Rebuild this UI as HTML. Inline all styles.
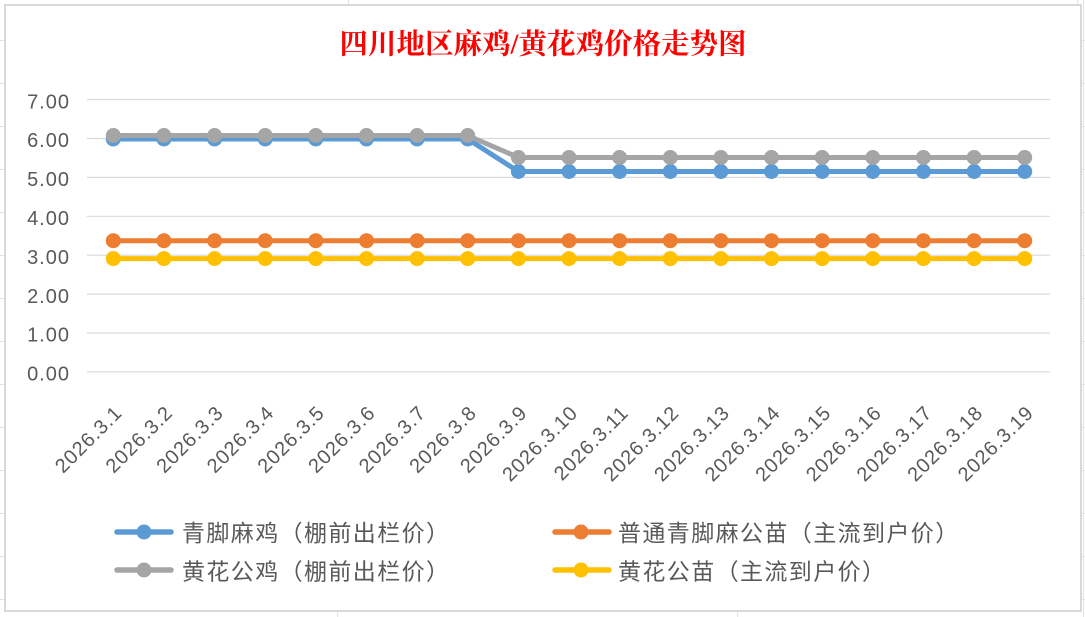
<!DOCTYPE html>
<html><head><meta charset="utf-8"><style>
html,body{margin:0;padding:0;background:#fff;}
body{width:1085px;height:617px;overflow:hidden;}
svg{display:block;}
.yl{font-family:"Liberation Sans","Noto Sans CJK SC",sans-serif;font-size:20px;fill:#595959;letter-spacing:1px;text-anchor:end;}
.xl{font-family:"Liberation Sans","Noto Sans CJK SC",sans-serif;font-size:20px;fill:#595959;letter-spacing:0.9px;text-anchor:end;}
.lg{font-family:"Liberation Sans","Noto Sans CJK SC",sans-serif;font-size:23px;fill:#595959;letter-spacing:1.4px;}
.tt{font-family:"Liberation Serif","Noto Serif CJK SC",serif;font-size:28.5px;fill:#ff0000;font-weight:bold;text-anchor:middle;}
</style></head><body>
<svg width="1085" height="617" viewBox="0 0 1085 617" xmlns="http://www.w3.org/2000/svg">
<g stroke="#e3e3e3" stroke-width="1">
<line x1="0" y1="40.5" x2="4" y2="40.5"/><line x1="0" y1="83.5" x2="4" y2="83.5"/><line x1="0" y1="126.5" x2="4" y2="126.5"/><line x1="0" y1="169.5" x2="4" y2="169.5"/><line x1="0" y1="212.5" x2="4" y2="212.5"/><line x1="0" y1="255.5" x2="4" y2="255.5"/><line x1="0" y1="298.5" x2="4" y2="298.5"/><line x1="0" y1="341.5" x2="4" y2="341.5"/><line x1="0" y1="384.5" x2="4" y2="384.5"/><line x1="0" y1="427.5" x2="4" y2="427.5"/><line x1="0" y1="470.5" x2="4" y2="470.5"/><line x1="0" y1="513.5" x2="4" y2="513.5"/><line x1="0" y1="556.5" x2="4" y2="556.5"/><line x1="0" y1="599.5" x2="4" y2="599.5"/>
<line x1="1082" y1="40.5" x2="1085" y2="40.5"/><line x1="1082" y1="83.5" x2="1085" y2="83.5"/><line x1="1082" y1="126.5" x2="1085" y2="126.5"/><line x1="1082" y1="169.5" x2="1085" y2="169.5"/><line x1="1082" y1="212.5" x2="1085" y2="212.5"/><line x1="1082" y1="255.5" x2="1085" y2="255.5"/><line x1="1082" y1="298.5" x2="1085" y2="298.5"/><line x1="1082" y1="341.5" x2="1085" y2="341.5"/><line x1="1082" y1="384.5" x2="1085" y2="384.5"/><line x1="1082" y1="427.5" x2="1085" y2="427.5"/><line x1="1082" y1="470.5" x2="1085" y2="470.5"/><line x1="1082" y1="513.5" x2="1085" y2="513.5"/><line x1="1082" y1="556.5" x2="1085" y2="556.5"/><line x1="1082" y1="599.5" x2="1085" y2="599.5"/>
<line x1="348.5" y1="0" x2="348.5" y2="4"/><line x1="1077.5" y1="0" x2="1077.5" y2="4"/>
<line x1="337.5" y1="612" x2="337.5" y2="617"/><line x1="737.5" y1="612" x2="737.5" y2="617"/>
<line x1="1083.5" y1="0" x2="1083.5" y2="617"/>
</g>
<rect x="5" y="5" width="1076" height="606" fill="#fff" stroke="#d9d9d9" stroke-width="2"/>
<text class="tt" x="543" y="53.5">四川地区麻鸡/黄花鸡价格走势图</text>
<g stroke="#d9d9d9" stroke-width="1.2">
<line x1="87" y1="99.5" x2="1050" y2="99.5"/>
<line x1="87" y1="138.5" x2="1050" y2="138.5"/>
<line x1="87" y1="177.4" x2="1050" y2="177.4"/>
<line x1="87" y1="216.3" x2="1050" y2="216.3"/>
<line x1="87" y1="255.2" x2="1050" y2="255.2"/>
<line x1="87" y1="294.1" x2="1050" y2="294.1"/>
<line x1="87" y1="333" x2="1050" y2="333"/>
<line x1="87" y1="371.8" x2="1050" y2="371.8"/>
</g>
<text class="yl" x="70" y="108.3">7.00</text>
<text class="yl" x="70" y="147.2">6.00</text>
<text class="yl" x="70" y="186.1">5.00</text>
<text class="yl" x="70" y="225">4.00</text>
<text class="yl" x="70" y="263.9">3.00</text>
<text class="yl" x="70" y="302.8">2.00</text>
<text class="yl" x="70" y="341.7">1.00</text>
<text class="yl" x="70" y="380.5">0.00</text>
<g>
<text class="xl" transform="translate(123.3,414) rotate(-45)">2026.3.1</text>
<text class="xl" transform="translate(173.9,414) rotate(-45)">2026.3.2</text>
<text class="xl" transform="translate(224.6,414) rotate(-45)">2026.3.3</text>
<text class="xl" transform="translate(275.2,414) rotate(-45)">2026.3.4</text>
<text class="xl" transform="translate(325.8,414) rotate(-45)">2026.3.5</text>
<text class="xl" transform="translate(376.5,414) rotate(-45)">2026.3.6</text>
<text class="xl" transform="translate(427.1,414) rotate(-45)">2026.3.7</text>
<text class="xl" transform="translate(477.7,414) rotate(-45)">2026.3.8</text>
<text class="xl" transform="translate(528.4,414) rotate(-45)">2026.3.9</text>
<text class="xl" transform="translate(579,414) rotate(-45)">2026.3.10</text>
<text class="xl" transform="translate(629.6,414) rotate(-45)">2026.3.11</text>
<text class="xl" transform="translate(680.3,414) rotate(-45)">2026.3.12</text>
<text class="xl" transform="translate(730.9,414) rotate(-45)">2026.3.13</text>
<text class="xl" transform="translate(781.5,414) rotate(-45)">2026.3.14</text>
<text class="xl" transform="translate(832.2,414) rotate(-45)">2026.3.15</text>
<text class="xl" transform="translate(882.8,414) rotate(-45)">2026.3.16</text>
<text class="xl" transform="translate(933.4,414) rotate(-45)">2026.3.17</text>
<text class="xl" transform="translate(984.1,414) rotate(-45)">2026.3.18</text>
<text class="xl" transform="translate(1034.7,414) rotate(-45)">2026.3.19</text>
</g>
<g fill="#5B9BD5">
<polyline fill="none" stroke="#5B9BD5" stroke-width="5" stroke-linejoin="round" stroke-linecap="round" points="113.3,139 163.9,139 214.6,139 265.2,139 315.8,139 366.5,139 417.1,139 467.7,139 518.4,171.5 569,171.5 619.6,171.5 670.3,171.5 720.9,171.5 771.5,171.5 822.2,171.5 872.8,171.5 923.4,171.5 974.1,171.5 1024.7,171.5"/>
<circle cx="113.3" cy="139" r="7.5"/><circle cx="163.9" cy="139" r="7.5"/><circle cx="214.6" cy="139" r="7.5"/><circle cx="265.2" cy="139" r="7.5"/><circle cx="315.8" cy="139" r="7.5"/><circle cx="366.5" cy="139" r="7.5"/><circle cx="417.1" cy="139" r="7.5"/><circle cx="467.7" cy="139" r="7.5"/><circle cx="518.4" cy="171.5" r="7.5"/><circle cx="569" cy="171.5" r="7.5"/><circle cx="619.6" cy="171.5" r="7.5"/><circle cx="670.3" cy="171.5" r="7.5"/><circle cx="720.9" cy="171.5" r="7.5"/><circle cx="771.5" cy="171.5" r="7.5"/><circle cx="822.2" cy="171.5" r="7.5"/><circle cx="872.8" cy="171.5" r="7.5"/><circle cx="923.4" cy="171.5" r="7.5"/><circle cx="974.1" cy="171.5" r="7.5"/><circle cx="1024.7" cy="171.5" r="7.5"/>
</g>
<g fill="#ED7D31">
<polyline fill="none" stroke="#ED7D31" stroke-width="5" stroke-linejoin="round" stroke-linecap="round" points="113.3,240.7 1024.7,240.7"/>
<circle cx="113.3" cy="240.7" r="7.5"/><circle cx="163.9" cy="240.7" r="7.5"/><circle cx="214.6" cy="240.7" r="7.5"/><circle cx="265.2" cy="240.7" r="7.5"/><circle cx="315.8" cy="240.7" r="7.5"/><circle cx="366.5" cy="240.7" r="7.5"/><circle cx="417.1" cy="240.7" r="7.5"/><circle cx="467.7" cy="240.7" r="7.5"/><circle cx="518.4" cy="240.7" r="7.5"/><circle cx="569" cy="240.7" r="7.5"/><circle cx="619.6" cy="240.7" r="7.5"/><circle cx="670.3" cy="240.7" r="7.5"/><circle cx="720.9" cy="240.7" r="7.5"/><circle cx="771.5" cy="240.7" r="7.5"/><circle cx="822.2" cy="240.7" r="7.5"/><circle cx="872.8" cy="240.7" r="7.5"/><circle cx="923.4" cy="240.7" r="7.5"/><circle cx="974.1" cy="240.7" r="7.5"/><circle cx="1024.7" cy="240.7" r="7.5"/>
</g>
<g fill="#A5A5A5">
<polyline fill="none" stroke="#A5A5A5" stroke-width="5" stroke-linejoin="round" stroke-linecap="round" points="113.3,135.5 163.9,135.5 214.6,135.5 265.2,135.5 315.8,135.5 366.5,135.5 417.1,135.5 467.7,135.5 518.4,157.5 569,157.5 619.6,157.5 670.3,157.5 720.9,157.5 771.5,157.5 822.2,157.5 872.8,157.5 923.4,157.5 974.1,157.5 1024.7,157.5"/>
<circle cx="113.3" cy="135.5" r="7.5"/><circle cx="163.9" cy="135.5" r="7.5"/><circle cx="214.6" cy="135.5" r="7.5"/><circle cx="265.2" cy="135.5" r="7.5"/><circle cx="315.8" cy="135.5" r="7.5"/><circle cx="366.5" cy="135.5" r="7.5"/><circle cx="417.1" cy="135.5" r="7.5"/><circle cx="467.7" cy="135.5" r="7.5"/><circle cx="518.4" cy="157.5" r="7.5"/><circle cx="569" cy="157.5" r="7.5"/><circle cx="619.6" cy="157.5" r="7.5"/><circle cx="670.3" cy="157.5" r="7.5"/><circle cx="720.9" cy="157.5" r="7.5"/><circle cx="771.5" cy="157.5" r="7.5"/><circle cx="822.2" cy="157.5" r="7.5"/><circle cx="872.8" cy="157.5" r="7.5"/><circle cx="923.4" cy="157.5" r="7.5"/><circle cx="974.1" cy="157.5" r="7.5"/><circle cx="1024.7" cy="157.5" r="7.5"/>
</g>
<g fill="#FFC000">
<polyline fill="none" stroke="#FFC000" stroke-width="5" stroke-linejoin="round" stroke-linecap="round" points="113.3,258.6 1024.7,258.6"/>
<circle cx="113.3" cy="258.6" r="7.5"/><circle cx="163.9" cy="258.6" r="7.5"/><circle cx="214.6" cy="258.6" r="7.5"/><circle cx="265.2" cy="258.6" r="7.5"/><circle cx="315.8" cy="258.6" r="7.5"/><circle cx="366.5" cy="258.6" r="7.5"/><circle cx="417.1" cy="258.6" r="7.5"/><circle cx="467.7" cy="258.6" r="7.5"/><circle cx="518.4" cy="258.6" r="7.5"/><circle cx="569" cy="258.6" r="7.5"/><circle cx="619.6" cy="258.6" r="7.5"/><circle cx="670.3" cy="258.6" r="7.5"/><circle cx="720.9" cy="258.6" r="7.5"/><circle cx="771.5" cy="258.6" r="7.5"/><circle cx="822.2" cy="258.6" r="7.5"/><circle cx="872.8" cy="258.6" r="7.5"/><circle cx="923.4" cy="258.6" r="7.5"/><circle cx="974.1" cy="258.6" r="7.5"/><circle cx="1024.7" cy="258.6" r="7.5"/>
</g>
<g stroke-width="5.5" stroke-linecap="round">
<line x1="117" y1="532" x2="171" y2="532" stroke="#5B9BD5"/>
<line x1="117" y1="570" x2="171" y2="570" stroke="#A5A5A5"/>
<line x1="555" y1="532" x2="609" y2="532" stroke="#ED7D31"/>
<line x1="555" y1="570" x2="609" y2="570" stroke="#FFC000"/>
</g>
<circle cx="144" cy="532" r="7.5" fill="#5B9BD5"/>
<circle cx="144" cy="570" r="7.5" fill="#A5A5A5"/>
<circle cx="581" cy="532" r="7.5" fill="#ED7D31"/>
<circle cx="581" cy="570" r="7.5" fill="#FFC000"/>
<text class="lg" x="182" y="541">青脚麻鸡（棚前出栏价）</text>
<text class="lg" x="182" y="579.5">黄花公鸡（棚前出栏价）</text>
<text class="lg" x="618" y="541">普通青脚麻公苗（主流到户价）</text>
<text class="lg" x="618" y="579.5">黄花公苗（主流到户价）</text>
</svg>
</body></html>
